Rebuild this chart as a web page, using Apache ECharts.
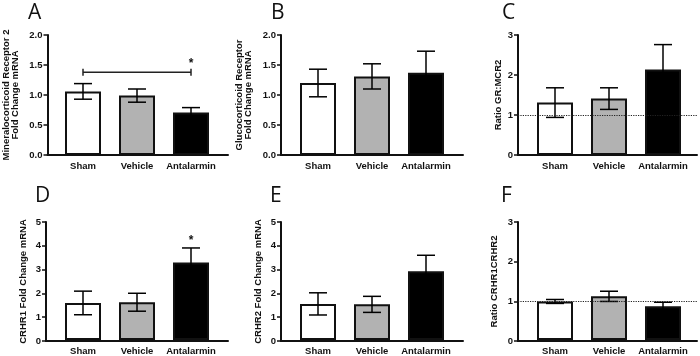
<!DOCTYPE html>
<html>
<head>
<meta charset="utf-8">
<script src="https://cdn.jsdelivr.net/npm/echarts@6/dist/echarts.min.js"></script>
<style>
  html, body { margin: 0; padding: 0; background: #fff; }
  #chart { width: 700px; height: 356px; }
</style>
</head>
<body>
<div id="chart"></div>
<script>
// groups on every panel
const groups = ["Sham", "Vehicle", "Antalarmin"];

// mean and SEM
const mrMean = [1.06, 0.99, 0.71];
const mrErr = [0.13, 0.11, 0.08];
const grMean = [1.20, 1.31, 1.37];
const grErr = [0.23, 0.21, 0.36];
const grMrMean = [1.31, 1.41, 2.14];
const grMrErr = [0.37, 0.27, 0.62];
const crhr1Mean = [1.57, 1.60, 3.28];
const crhr1Err = [0.50, 0.38, 0.62];
const crhr2Mean = [1.53, 1.51, 2.91];
const crhr2Err = [0.47, 0.34, 0.68];
const ratioMean = [0.98, 1.11, 0.86];
const ratioErr = [0.05, 0.13, 0.10];

// significance marks: [from group, to group, y] and [group, y]
const bracketA = [[0, 2, 1.38]];
const starA = [[2, 1.52]];
const starD = [[2, 4.2]];

const fills = ["#ffffff", "#b2b2b2", "#000000"];
const font = "Liberation Sans";
const ink = "#111";

// axis placement per column / row (px)
const colAxisX = [46, 281, 518];
const colAxisEnd = [228, 463, 697];
const colLetterX = [[28, 271, 502], [35, 270, 501]];
const rowTop = [35, 222];
const rowHeight = [120, 119];
const rowLetterY = [3, 186];

const panels = [
  { letter: "A", name: "Mineralocorticoid Receptor 2\nFold Change mRNA", mean: mrMean, err: mrErr, max: 2, interval: 0.5, digits: 1, row: 0, col: 0, nameGap: 28, bracket: bracketA, star: starA },
  { letter: "B", name: "Glucocorticoid Receptor\nFold Change mRNA", mean: grMean, err: grErr, max: 2, interval: 0.5, digits: 1, row: 0, col: 1, nameGap: 28 },
  { letter: "C", name: "Ratio GR:MCR2", mean: grMrMean, err: grMrErr, max: 3, interval: 1, digits: 0, row: 0, col: 2, nameGap: 15, refLine: 1 },
  { letter: "D", name: "CRHR1 Fold Change mRNA", mean: crhr1Mean, err: crhr1Err, max: 5, interval: 1, digits: 0, row: 1, col: 0, nameGap: 18, star: starD },
  { letter: "E", name: "CRHR2 Fold Change mRNA", mean: crhr2Mean, err: crhr2Err, max: 5, interval: 1, digits: 0, row: 1, col: 1, nameGap: 18 },
  { letter: "F", name: "Ratio CRHR1CRHR2", mean: ratioMean, err: ratioErr, max: 3, interval: 1, digits: 0, row: 1, col: 2, nameGap: 19, refLine: 1 },
];

// error bar: stem + two caps, all in plain black
const renderErr = (params, api) => {
  const x = api.value(0);
  const m = api.value(1);
  const e = api.value(2);
  const hi = api.coord([x, m + e]);
  const lo = api.coord([x, m - e]);
  const half = 9;
  const style = { stroke: "#000", fill: null, lineWidth: 1.5, opacity: 1 };
  return {
    type: "group",
    children: [
      { type: "line", shape: { x1: hi[0], y1: hi[1], x2: lo[0], y2: lo[1] }, style },
      { type: "line", shape: { x1: hi[0] - half, y1: hi[1], x2: hi[0] + half, y2: hi[1] }, style },
      { type: "line", shape: { x1: lo[0] - half, y1: lo[1], x2: lo[0] + half, y2: lo[1] }, style },
    ],
  };
};

const renderBracket = (params, api) => {
  const y = api.value(2);
  const a = api.coord([api.value(0), y]);
  const b = api.coord([api.value(1), y]);
  const style = { stroke: "#222", lineWidth: 1.5 };
  return {
    type: "group",
    children: [
      { type: "line", shape: { x1: a[0], y1: a[1], x2: b[0], y2: b[1] }, style },
      { type: "line", shape: { x1: a[0], y1: a[1] - 3.5, x2: a[0], y2: a[1] + 3.5 }, style },
      { type: "line", shape: { x1: b[0], y1: b[1] - 3.5, x2: b[0], y2: b[1] + 3.5 }, style },
    ],
  };
};

const renderStar = (params, api) => {
  const p = api.coord([api.value(0), api.value(1)]);
  return {
    type: "text",
    x: p[0],
    y: p[1],
    style: { text: "*", fontSize: 12, fontWeight: "bold", fontFamily: font, fill: ink, align: "center", verticalAlign: "middle" },
  };
};

const grid = [];
const xAxis = [];
const yAxis = [];
const series = [];
const title = [];

panels.forEach((p, i) => {
  const frame = 2 * i;
  const main = 2 * i + 1;
  const left = colAxisX[p.col];
  const top = rowTop[p.row];
  const height = rowHeight[p.row];

  title.push({
    text: p.letter,
    left: colLetterX[p.row][p.col],
    top: rowLetterY[p.row],
    padding: 0,
    textStyle: { fontFamily: "Open Sans", fontWeight: "normal", fontSize: 21, color: "#111" },
  });

  // frame grid carries the axis lines
  grid.push({ left: left, top: top, width: colAxisEnd[p.col] - left, height: height });
  // inner grid carries the bars
  grid.push({ left: left + 10, top: top, width: 162, height: height });

  xAxis.push({
    gridIndex: frame, type: "value", min: 0, max: 1,
    axisLine: { show: true, lineStyle: { color: "#111", width: 2 } },
    axisTick: { show: false }, axisLabel: { show: false }, splitLine: { show: false },
  });
  xAxis.push({
    gridIndex: main, type: "category", data: groups,
    axisLine: { show: false }, axisTick: { show: false }, splitLine: { show: false }, splitArea: { show: false },
    axisLabel: { interval: 0, color: ink, fontFamily: font, fontWeight: "bold", fontSize: 9.5, margin: 6 },
  });

  yAxis.push({
    gridIndex: frame, type: "value", min: 0, max: p.max, interval: p.interval,
    axisLine: { show: true, lineStyle: { color: "#111", width: 2 } },
    axisTick: { show: true, length: 4, lineStyle: { color: "#111", width: 1.5 } },
    axisLabel: { color: ink, fontFamily: font, fontWeight: "bold", fontSize: 9.5, margin: 5, formatter: (v) => v.toFixed(p.digits) },
    splitLine: { show: false },
    name: p.name, nameLocation: "middle", nameGap: p.nameGap,
    nameTextStyle: { color: ink, fontFamily: font, fontWeight: "bold", fontSize: 9.5, lineHeight: 9 },
  });
  yAxis.push({ gridIndex: main, type: "value", min: 0, max: p.max, show: false, splitLine: { show: false } });

  series.push({
    type: "bar", xAxisIndex: main, yAxisIndex: main, barWidth: 36, z: 2,
    data: p.mean.map((v, j) => ({ value: v, itemStyle: { color: fills[j], opacity: 1 } })),
    itemStyle: { borderColor: "#111", borderWidth: 2 },
    silent: true,
  });
  series.push({
    type: "custom", xAxisIndex: main, yAxisIndex: main, z: 3,
    renderItem: renderErr,
    data: p.mean.map((v, j) => [j, v, p.err[j]]),
    silent: true,
  });

  if (p.refLine !== undefined) {
    series.push({
      type: "line", xAxisIndex: frame, yAxisIndex: frame, data: [], z: 4,
      markLine: {
        silent: true, symbol: "none", label: { show: false },
        lineStyle: { color: "#222", type: "dotted", width: 1.2 },
        data: [{ yAxis: p.refLine }],
      },
    });
  }
  if (p.bracket) {
    series.push({ type: "custom", xAxisIndex: main, yAxisIndex: main, z: 4, renderItem: renderBracket, data: p.bracket, silent: true });
  }
  if (p.star) {
    series.push({ type: "custom", xAxisIndex: main, yAxisIndex: main, z: 4, renderItem: renderStar, data: p.star, silent: true });
  }
});

const chart = echarts.init(document.getElementById("chart"));
chart.setOption({
  animation: false,
  backgroundColor: "#fff",
  title: title,
  grid: grid,
  xAxis: xAxis,
  yAxis: yAxis,
  series: series,
});
window.addEventListener("resize", () => chart.resize());
</script>
</body>
</html>
